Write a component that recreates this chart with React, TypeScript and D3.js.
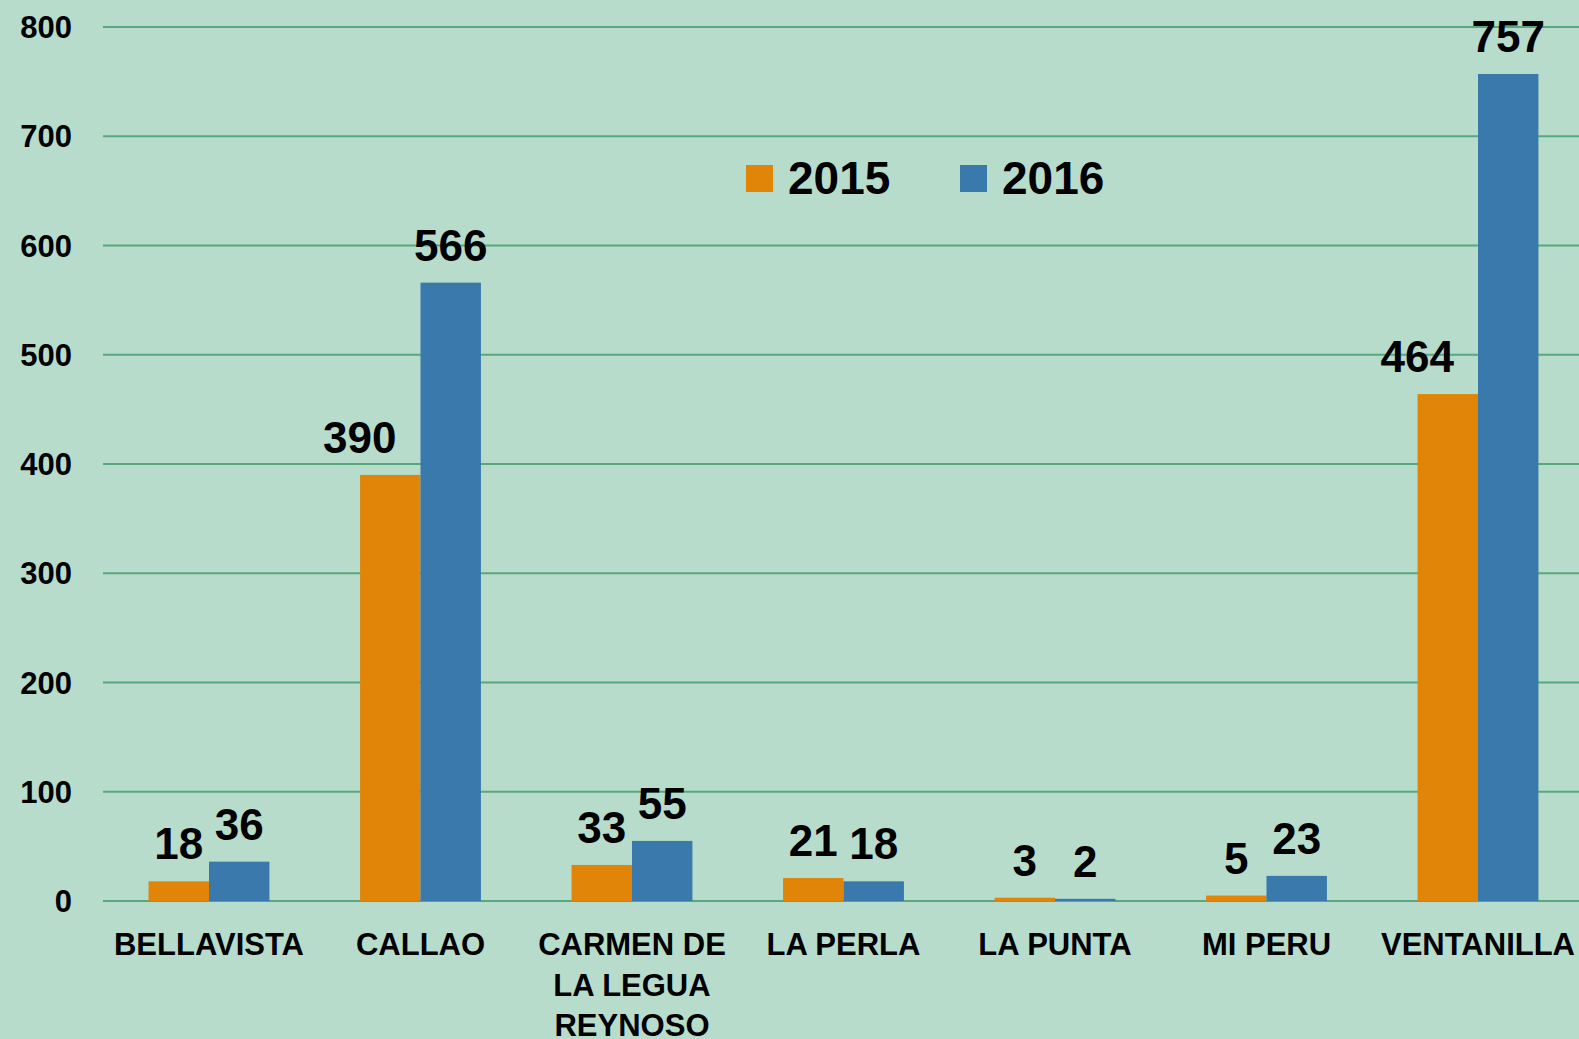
import React from "react";
import * as d3 from "d3";

const categories: string[][] = [
  ["BELLAVISTA"],
  ["CALLAO"],
  ["CARMEN DE", "LA LEGUA", "REYNOSO"],
  ["LA PERLA"],
  ["LA PUNTA"],
  ["MI PERU"],
  ["VENTANILLA"],
];
const series2015: number[] = [18, 390, 33, 21, 3, 5, 464];
const series2016: number[] = [36, 566, 55, 18, 2, 23, 757];
const yTicks: number[] = [0, 100, 200, 300, 400, 500, 600, 700, 800];
const seriesNames = ["2015", "2016"];

const W = 1579;
const H = 1039;
const BG = "#b8dccb";
const GRID = "#57a87c";
const ORANGE = "#e08507";
const BLUE = "#3a79ab";
const FONT = "'Liberation Sans', Arial, sans-serif";
const LABEL_SIZE = 44;
const DIGIT_W = 0.556;

export default function App() {
  const y = d3.scaleLinear().domain([0, 800]).range([901, 27]);
  const x = d3
    .scaleBand<number>()
    .domain(categories.map((_, i) => i))
    .range([103.25, 1583.75])
    .paddingInner(0)
    .paddingOuter(0);
  const band = x.bandwidth();
  const barW = band / 3.5;
  const off = barW * 0.75;
  const colors = [ORANGE, BLUE];
  const data = [series2015, series2016];

  return (
    <div style={{ position: "fixed", left: 0, top: 0, width: W, height: H }}>
      <svg width={W} height={H} style={{ display: "block" }}>
        <rect x={0} y={0} width={W} height={H} fill={BG} />
        {yTicks.map((t) => (
          <g key={t}>
            <line x1={103} x2={W} y1={y(t)} y2={y(t)} stroke={GRID} strokeWidth={2} />
            <text
              x={72}
              y={y(t) + 11}
              textAnchor="end"
              fontFamily={FONT}
              fontWeight="bold"
              fontSize={31}
              fill="#000"
            >
              {t}
            </text>
          </g>
        ))}
        {data.map((s, si) =>
          s.map((v, i) => {
            const bx = (x(i) as number) + off + si * barW;
            let cx = bx + barW / 2;
            const ly = y(v) - 22;
            if (si === 0) {
              const other = series2016[i];
              const blueLeft = bx + barW;
              const lw = String(v).length * DIGIT_W * LABEL_SIZE;
              if (ly - LABEL_SIZE * 0.72 > y(other) - 4 && cx + lw / 2 > blueLeft - 24) {
                cx = blueLeft - 24 - lw / 2;
              }
            }
            return (
              <g key={`${si}-${i}`}>
                <rect x={bx} y={y(v)} width={barW} height={y(0) - y(v)} fill={colors[si]} />
                <text
                  x={cx}
                  y={ly}
                  textAnchor="middle"
                  fontFamily={FONT}
                  fontWeight="bold"
                  fontSize={LABEL_SIZE}
                  fill="#000"
                >
                  {v}
                </text>
              </g>
            );
          })
        )}
        {categories.map((lines, i) => (
          <text
            key={i}
            textAnchor="middle"
            fontFamily={FONT}
            fontWeight="bold"
            fontSize={31}
            fill="#000"
          >
            {lines.map((l, li) => (
              <tspan key={li} x={(x(i) as number) + band / 2} y={955 + li * 40.5}>
                {l}
              </tspan>
            ))}
          </text>
        ))}
        <g>
          <rect x={746} y={165} width={27} height={27} fill={ORANGE} />
          <text x={788} y={194} fontFamily={FONT} fontWeight="bold" fontSize={46} fill="#000">
            {seriesNames[0]}
          </text>
          <rect x={960} y={165} width={27} height={27} fill={BLUE} />
          <text x={1002} y={194} fontFamily={FONT} fontWeight="bold" fontSize={46} fill="#000">
            {seriesNames[1]}
          </text>
        </g>
      </svg>
    </div>
  );
}
